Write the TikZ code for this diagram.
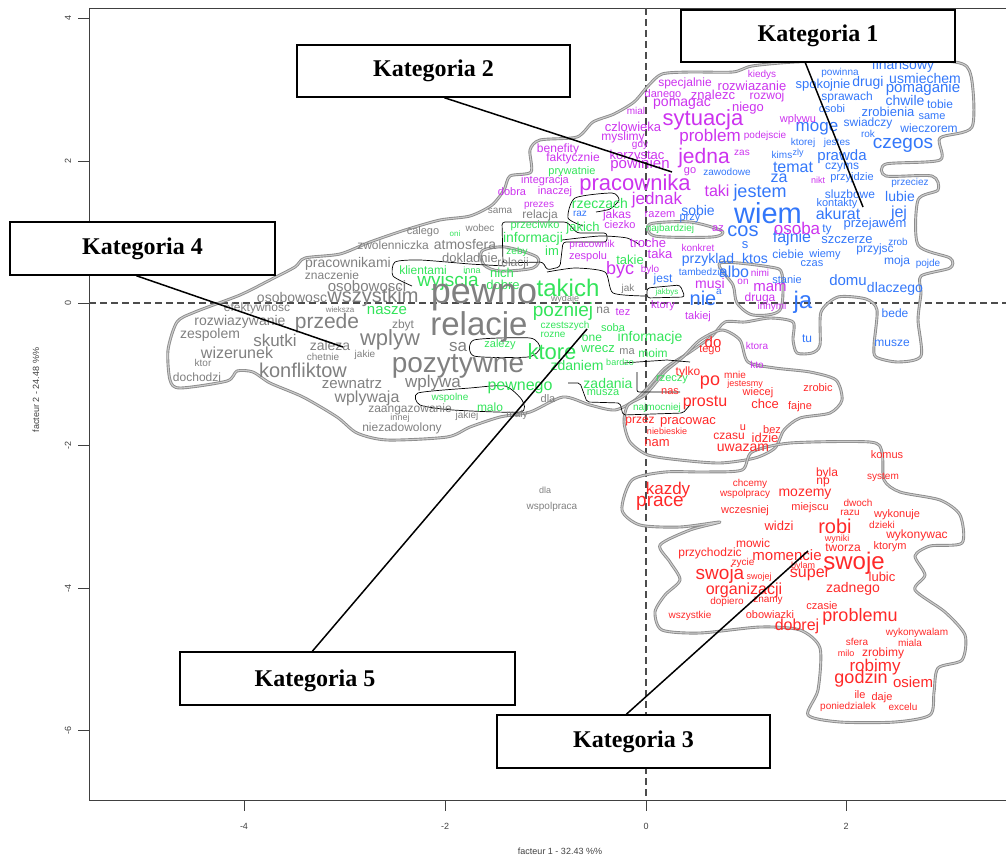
\documentclass[tikz,border=0pt]{standalone}
\usepackage{fontspec}
\setmainfont{Liberation Sans}
\newfontfamily\calloutfont{Liberation Serif}
\usetikzlibrary{calc}
\definecolor{wgray}{RGB}{128,128,128}
\definecolor{wblue}{RGB}{51,119,250}
\definecolor{wmag}{RGB}{204,51,238}
\definecolor{wgreen}{RGB}{51,228,90}
\definecolor{wred}{RGB}{255,40,40}
\tikzset{
  word/.style={inner sep=0pt, anchor=center},
  cloud/.style={draw=black!45, line width=0.9pt, double=black!20, double distance=1.1pt, line join=round},
  sepline/.style={draw=black, line width=0.7pt, line join=round},
  axisline/.style={draw=black!75, line width=0.8pt},
  zeroline/.style={draw=black!70, line width=1.1pt, dash pattern=on 7pt off 4pt},
  ticklabel/.style={inner sep=0pt, text=black!75, font=\fontsize{9}{9}\selectfont},
  catbox/.style={draw=black, line width=1.4pt, fill=white, inner sep=0pt, font=\calloutfont\bfseries\fontsize{24}{24}\selectfont},
  lead/.style={draw=black, line width=1.5pt}
}
\begin{document}
\begin{tikzpicture}[x=1pt, y=-1pt]
\useasboundingbox (0,0) rectangle (1006,859);
\clip (0,0) rectangle (1006,859);

% plot frame and axes
\draw[axisline] (89,8) -- (1010,8);
\draw[axisline] (89,8) -- (89,800) -- (1010,800);
\draw[zeroline] (646,8) -- (646,800);
\draw[zeroline] (89,303) -- (1010,303);
\foreach \v/\yy in {4/18, 2/161, 0/303, -2/445, -4/588, -6/730}
  { \draw[axisline] (78,\yy) -- (89,\yy);
    \node[ticklabel, rotate=90] (yt\yy) at (68,\yy) {\v}; }
\foreach \v/\xx in {-4/244, -2/445, 0/646, 2/846}
  { \draw[axisline] (\xx,800) -- (\xx,811);
    \node[ticklabel] (xt\xx) at (\xx,826) {\v}; }
\node[ticklabel, rotate=90] (ytitle) at (36,390) {facteur 2 - 24.48 \%\%};
\node[ticklabel] (xtitle) at (560,851) {facteur 1 - 32.43 \%\%};

% cluster outlines
\draw[cloud] plot[smooth cycle, tension=0.45] coordinates {
  (170,380) (168,350) (177,322) (195,312) (240,295) (270,280) (295,267) (305,258)
  (340,254) (370,242) (405,230) (440,220) (470,216) (492,205) (504,190) (510,176)
  (531,172) (530,150) (540,140) (577,137) (593,122) (614,114) (634,102) (648,86)
  (662,74) (690,72) (733,72) (752,66) (795,62) (870,60) (955,62) (971,76) (972,127)
  (940,138) (940,160) (886,164) (886,176) (932,176) (938,190) (918,200) (918,245)
  (950,258) (950,268) (921,276) (921,293) (918,320) (921,356) (898,362) (876,357)
  (874,345) (877,310) (866,299) (838,297) (821,312) (820,345) (812,353) (797,353)
  (793,340) (793,322) (770,318) (745,322) (725,322) (712,336) (690,352) (665,368)
  (650,385) (635,400) (615,410) (590,405) (563,397) (530,412) (500,417) (470,427)
  (447,437) (387,440) (357,433) (337,417) (303,397) (270,383) (253,372) (237,371)
  (227,381) (180,388)};
\draw[cloud] plot[smooth cycle, tension=0.45] coordinates {
  (700,340) (722,330) (740,340) (748,362) (775,368) (810,372) (836,380) (842,400)
  (830,413) (800,418) (784,430) (775,448) (755,458) (720,463) (680,460) (648,455)
  (630,442) (624,422) (628,405) (645,395) (665,372) (683,357)};
\draw[cloud] plot[smooth cycle, tension=0.45] coordinates {
  (632,480) (665,472) (705,472) (742,470) (752,452) (790,443) (870,442) (882,452)
  (884,480) (900,492) (940,500) (960,515) (962,543) (930,546) (915,556) (925,575)
  (915,590) (945,612) (965,635) (962,660) (938,668) (934,692) (930,715) (895,722)
  (840,722) (808,715) (818,690) (820,648) (800,630) (760,627) (700,633) (662,630)
  (655,612) (665,595) (680,580) (670,562) (660,545) (690,530) (720,522) (680,527)
  (640,525) (622,510)};
\draw[cloud] plot[smooth cycle, tension=0.5] coordinates {
  (720,263) (770,267) (782,274) (780,310) (753,315) (737,303) (733,285)};
\draw[cloud] plot[smooth cycle, tension=0.5] coordinates {
  (482,251) (505,247) (537,257) (533,268) (500,271) (484,265)};
\draw[cloud] plot[smooth cycle, tension=0.5] coordinates {
  (650,224) (690,222) (722,231) (712,237) (655,236)};

% separating lines inside the clusters
\draw[sepline] plot[smooth, tension=0.4] coordinates {(505,266) (470,264) (420,260) (395,262) (393,276) (412,286)};
\draw[sepline] plot[smooth, tension=0.4] coordinates {(583,226) (568,218) (575,198) (612,193) (619,200) (610,209) (596,212)};
\draw[sepline, rounded corners=3pt] (502,222) -- (567,222) -- (577,233) -- (607,233) -- (607,242)
  -- (563,242) -- (560,267) -- (547,270) -- (543,262) -- (503,263) -- cycle;
\draw[sepline] plot[smooth, tension=0.4] coordinates {(562,240) (600,236) (627,238) (640,245)};
\draw[sepline] plot[smooth, tension=0.4] coordinates {(547,272) (575,268) (605,272) (613,293) (645,296)};
\draw[sepline, rounded corners=3pt] (647,288) -- (680,285) -- (685,297) -- (647,298) -- cycle;
\draw[sepline] plot[smooth cycle, tension=0.4] coordinates {(474,340) (530,338) (540,348) (528,357) (474,356)};
\draw[sepline] plot[smooth cycle, tension=0.4] coordinates {(418,393) (470,388) (505,386) (522,400) (520,412) (453,410) (420,405)};
\draw[sepline, rounded corners=2pt] (568,383) -- (580,383) -- (587,402) -- (620,403) -- (623,415) -- (683,413) -- (690,405);
\draw[sepline] (623,363) -- (667,360) -- (690,362);
\draw[sepline, rounded corners=2pt] (637,372) -- (637,392) -- (680,392);

% category 1 words
\foreach \x/\y/\s/\t [count=\i] in {
 903/66/14/finansowy, 925/78/14/usmiechem, 923/89/15/pomaganie, 905/100/14/chwile,
 940/104/12/tobie, 932/117/11/same, 929/128/12/wieczorem, 823/85/13/spokojnie,
 868/83/14/drugi, 840/73/10/powinna, 847/97/12/sprawach, 832/109/11/osobi,
 888/112/13/zrobienia, 868/123/12/swiadczy, 868/134/10/rok, 817/129/17/moge,
 903/145/19/czegos, 803/143/10/ktorej, 837/143/10/jestes, 782/155/10/kims,
 798/153/9/zly, 842/157/15/prawda, 793/167/16/temat, 842/168/12/czyms,
 779/178/16/za, 852/178/11/przyjdzie, 910/183/10/przeciez, 760/193/18/jestem,
 850/194/12/sluzbowe, 900/196/14/lubie, 837/204/11/kontakty, 768/213/29/wiem,
 838/214/16/akurat, 899/213/16/jej, 875/224/13/przejawem, 743/231/20/cos,
 827/230/12/ty, 792/238/16/fajnie, 847/240/13/szczerze, 898/242/10/zrob,
 875/249/12/przyjsc, 745/245/13/s, 788/254/12/ciebie, 825/255/11/wiemy,
 755/258/14/ktos, 812/264/11/czas, 897/261/12/moja, 928/264/10/pojde,
 848/280/15/domu, 895/289/14/dlaczego, 787/280/11/stanie, 803/302/24/ja,
 895/313/12/bede, 807/339/12/tu, 892/343/12/musze, 734/272/16/albo,
 708/260/14/przyklad, 702/272/10/tambedzie, 663/279/12/jest, 703/298/20/nie,
 719/292/10/a, 698/210/14/sobie, 690/219/11/przy, 727/172/10/zawodowe, 580/214/10/raz}
 \node[word, text=wblue, font=\fontsize{\s}{\s}\selectfont] (b\i) at (\x,\y) {\t};

% category 2 words
\foreach \x/\y/\s/\t [count=\i] in {
 685/83/12/specjalnie, 752/86/13/rozwiazanie, 762/75/10/kiedys, 663/95/11/danego,
 713/95/13/znalezc, 767/96/12/rozwoj, 748/108/13/niego, 682/104/14/pomagac,
 636/111/10/mial, 798/120/11/wplywu, 703/120/22/sytuacja, 633/127/13/czlowieka,
 765/136/10/podejscie, 710/137/17/problem, 623/137/12/myslimy, 558/149/12/benefity,
 640/145/10/gdy, 573/158/12/faktycznie, 637/156/13/korzystac, 640/165/15/powinien,
 704/158/21/jedna, 742/153/10/zas, 545/181/11/integracja, 512/192/11/dobra,
 555/192/11/inaczej, 635/185/22/pracownika, 657/200/17/jednak, 539/206/10/prezes,
 617/215/12/jakas, 660/215/11/razem, 620/225/11/ciezko, 592/245/10/pracownik,
 648/243/13/troche, 588/257/11/zespolu, 660/254/13/taka, 620/270/18/byc,
 650/270/10/bylo, 710/283/14/musi, 718/229/11/az, 698/248/10/konkret,
 663/306/11/ktory, 698/317/11/takiej, 623/312/11/tez, 797/228/17/osoba,
 818/180/9/nikt, 760/273/10/nimi, 743/282/10/on, 770/288/15/mam,
 760/298/12/druga, 772/307/10/innymi, 757/346/10/ktora, 757/365/10/kto,
 690/172/11/go, 717/191/16/taki}
 \node[word, text=wmag, font=\fontsize{\s}{\s}\selectfont] (m\i) at (\x,\y) {\t};

% category 5 words
\foreach \x/\y/\s/\t [count=\i] in {
 572/172/11/prywatnie, 600/203/14/rzeczach, 535/226/11/przeciwko, 583/228/13/jakich,
 533/239/14/informacji, 552/251/13/im, 517/252/10/zeby, 630/260/13/takie,
 502/273/13/nich, 503/285/13/dobre, 568/288/24/takich, 563/312/19/pozniej,
 565/326/10/czestszych, 553/335/10/rozne, 592/338/12/one, 613/328/11/soba,
 650/338/14/informacje, 552/352/22/ktore, 598/349/13/wrecz, 653/353/12/moim,
 500/345/11/zalezy, 577/365/14/zdaniem, 620/362/9/bardzo, 520/388/16/pewnego,
 608/383/14/zadania, 603/393/11/musza, 490/407/12/malo, 657/408/10/najmocniej,
 672/380/11/rzeczy, 423/270/12/klientami, 472/270/9/inna, 448/282/19/wyjscia,
 387/311/15/nasze, 450/398/10/wspolne, 455/234/8/oni, 670/229/10/najbardziej,
 667/292/8/jakbys}
 \node[word, text=wgreen, font=\fontsize{\s}{\s}\selectfont] (g\i) at (\x,\y) {\t};

% category 4 words
\foreach \x/\y/\s/\t [count=\i] in {
 500/211/10/sama, 480/228/10/wobec, 423/232/11/calego, 393/245/12/zwolenniczka,
 465/245/14/atmosfera, 348/264/14/pracownikami, 470/258/13/dokladnie, 332/275/12/znaczenie,
 367/286/15/osobowosci, 292/297/14/osobowosc, 373/297/20/wszystkim, 484/298/36/pewno,
 257/308/12/efektywnosc, 340/310/8/wieksza, 240/322/14/rozwiazywanie, 327/323/21/przede,
 403/325/12/zbyt, 479/327/33/relacje, 210/335/14/zespolem, 275/340/17/skutki,
 330/345/14/zaleza, 390/340/22/wplyw, 237/353/16/wizerunek, 323/357/10/chetnie,
 365/355/10/jakie, 458/366/28/pozytywne, 203/363/10/ktor, 197/377/12/dochodzi,
 303/370/20/konfliktow, 352/384/15/zewnatrz, 433/383/17/wplywa, 367/398/16/wplywaja,
 410/409/12/zaangazowanie, 400/418/9/innej, 467/416/10/jakiej, 402/428/12/niezadowolony,
 458/347/17/sa, 540/215/12/relacja, 513/263/12/relacji, 628/289/10/jak,
 565/299/9/wydaje, 603/310/12/na, 627/352/11/ma, 548/399/11/dla,
 517/415/10/maly, 545/490/9/dla, 552/507/10/wspolpraca}
 \node[word, text=wgray, font=\fontsize{\s}{\s}\selectfont] (v\i) at (\x,\y) {\t};

% category 3 words
\foreach \x/\y/\s/\t [count=\i] in {
 688/372/12/tylko, 735/375/10/mnie, 710/383/18/po, 745/384/9/jestesmy,
 670/392/11/nas, 758/393/11/wiecej, 705/403/16/prostu, 765/404/13/chce,
 800/407/11/fajne, 818/388/11/zrobic, 640/422/12/przez, 688/422/13/pracowac,
 667/431/9/niebieskie, 657/443/13/nam, 729/436/12/czasu, 743/428/11/u,
 772/430/11/bez, 765/438/13/idzie, 743/448/14/uwazam, 713/342/15/do,
 710/350/11/tego,
 887/455/11/komus, 827/473/12/byla, 823/483/12/np, 883/477/10/system,
 668/490/17/kazdy, 660/503/19/prace, 750/484/10/chcemy, 745/494/10/wspolpracy,
 805/494/14/mozemy, 858/503/10/dwoch, 850/513/10/razu, 897/515/11/wykonuje,
 745/511/11/wczesniej, 810/508/11/miejscu, 779/526/13/widzi, 835/526/20/robi,
 882/525/10/dzieki, 837/539/9/wyniki, 917/535/12/wykonywac, 753/543/12/mowic,
 710/553/12/przychodzic, 787/555/15/momencie, 843/548/12/tworza, 890/547/11/ktorym,
 854/563/24/swoje, 743/563/10/zycie, 803/566/9/bylam, 720/575/19/swoja,
 759/577/9/swojej, 810/575/16/super, 882/577/13/lubic, 744/590/16/organizacji,
 853/589/14/zadnego, 727/602/10/dopiero, 768/601/10/znamy, 822/606/11/czasie,
 690/616/10/wszystkie, 770/615/11/obowiazki, 860/617/18/problemu, 797/626/16/dobrej,
 917/633/10/wykonywalam, 857/642/10/sfera, 910/643/10/miala, 846/653/9/milo,
 883/653/12/zrobimy, 875/667/17/robimy, 861/679/18/godzin, 913/682/15/osiem,
 860/695/11/ile, 882/698/11/daje, 848/707/10/poniedzialek, 903/707/10/excelu}
 \node[word, text=wred, font=\fontsize{\s}{\s}\selectfont] (r\i) at (\x,\y) {\t};

% category callouts
\coordinate (p1) at (863,207);
\coordinate (p2) at (672,172);
\coordinate (p3) at (808,551);
\coordinate (p4) at (343,347);
\coordinate (p5) at (587,329);
\node[catbox, minimum width=274pt, minimum height=52pt] (k1) at (818,36) {Kategoria 1};
\node[catbox, minimum width=273pt, minimum height=52pt] (k2) at (433.5,71) {Kategoria 2};
\node[catbox, minimum width=265pt, minimum height=53pt] (k4) at (142.5,248.5) {Kategoria 4};
\node[catbox, minimum width=335pt, minimum height=53pt] (k5) at (347.5,678.5) {};
\node[inner sep=0pt, font=\calloutfont\bfseries\fontsize{24}{24}\selectfont] (k5t) at (315,681) {Kategoria 5};
\node[catbox, minimum width=273pt, minimum height=53pt] (k3) at (633.5,741.5) {Kategoria 3};
\draw[lead] (k1.south west) ++(125,0) -- (p1);
\draw[lead] (k2.south west) ++(148,0) -- (p2);
\draw[lead] (k4.south west) ++(127,0) -- (p4);
\draw[lead] (k5.north west) ++(133,0) -- (p5);
\draw[lead] (k3.north west) ++(130,0) -- (p3);
\end{tikzpicture}
\end{document}
